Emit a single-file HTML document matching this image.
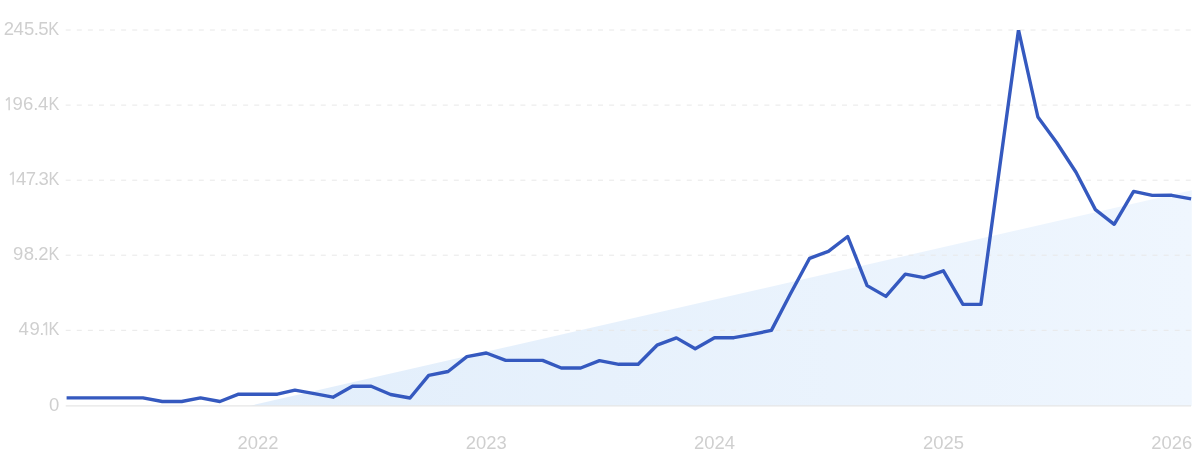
<!DOCTYPE html>
<html><head><meta charset="utf-8"><style>
html,body{margin:0;padding:0;background:#fff;}
body{width:1200px;height:472px;overflow:hidden;}
svg{display:block;}
text{font-family:"Liberation Sans",sans-serif;font-size:18.5px;fill:#cfcfcf;}
</style></head><body>
<svg style="will-change:transform" width="1200" height="472" viewBox="0 0 1200 472">
<defs>
<linearGradient id="g" gradientUnits="userSpaceOnUse" x1="250" y1="0" x2="1192" y2="0">
<stop offset="0" stop-color="#e2eefb"/>
<stop offset="1" stop-color="#eff6fe"/>
</linearGradient>
<clipPath id="c"><rect x="0" y="30" width="1200" height="420"/></clipPath>
</defs>
<rect width="1200" height="472" fill="#fff"/>
<polygon points="249.5,405.9 1191.8,190.3 1191.8,405.9" fill="url(#g)"/>
<line x1="65.7" y1="30.0" x2="1191" y2="30.0" stroke="#e8e8e8" stroke-width="1" stroke-dasharray="5 6.09"/>
<line x1="65.7" y1="105.1" x2="1191" y2="105.1" stroke="#e8e8e8" stroke-width="1" stroke-dasharray="5 6.09"/>
<line x1="65.7" y1="180.2" x2="1191" y2="180.2" stroke="#e8e8e8" stroke-width="1" stroke-dasharray="5 6.09"/>
<line x1="65.7" y1="255.2" x2="1191" y2="255.2" stroke="#e8e8e8" stroke-width="1" stroke-dasharray="5 6.09"/>
<line x1="65.7" y1="330.3" x2="1191" y2="330.3" stroke="#e8e8e8" stroke-width="1" stroke-dasharray="5 6.09"/>
<line x1="65.7" y1="405.9" x2="1191" y2="405.9" stroke="#e6e6e6" stroke-width="1.2"/>
<path d="M66.6,397.9 L86.0,397.9 L104.8,397.9 L124.2,397.9 L142.9,397.9 L162.3,401.5 L181.7,401.5 L200.5,397.9 L219.9,401.5 L238.6,394.2 L258.0,394.2 L277.4,394.2 L294.9,390.2 L314.3,393.6 L333.0,397.2 L352.4,386.3 L371.2,386.3 L390.6,394.5 L410.0,398.0 L428.7,375.3 L448.1,371.5 L466.9,356.6 L486.3,353.0 L505.7,360.4 L523.2,360.4 L542.6,360.4 L561.3,368.0 L580.7,368.0 L599.5,360.6 L618.9,364.3 L638.2,364.3 L657.0,345.2 L676.4,337.9 L695.2,348.7 L714.5,337.7 L733.9,337.7 L752.1,334.3 L771.4,330.4 L790.2,294.3 L809.6,258.3 L828.4,251.3 L847.7,236.5 L867.1,285.6 L885.9,296.4 L905.3,274.2 L924.0,277.7 L943.4,270.8 L962.8,304.2 L980.9,304.4 L999.7,167.0 L1018.5,30.0 L1037.9,117.0 L1056.6,142.5 L1076.0,172.2 L1095.4,209.6 L1114.2,224.3 L1133.6,191.4 L1152.3,195.4 L1171.7,195.3 L1191.1,198.9" fill="none" stroke="#3559bf" stroke-width="3.4" stroke-linejoin="round" stroke-linecap="butt" clip-path="url(#c)"/>
<text x="9.00" y="35.0" text-anchor="middle">2</text>
<text x="18.75" y="35.0" text-anchor="middle">4</text>
<text x="29.10" y="35.0" text-anchor="middle">5</text>
<text x="36.25" y="35.0" text-anchor="middle">.</text>
<text x="43.40" y="35.0" text-anchor="middle">5</text>
<text transform="translate(53.65,35.0) scale(0.88,1)" text-anchor="middle">K</text>
<path d="M9.15,110.20 V97.70 L5.95,100.30" fill="none" stroke="#d2d2d2" stroke-width="1.5" stroke-linejoin="round" stroke-linecap="butt"/>
<text x="17.60" y="110.4" text-anchor="middle">9</text>
<text x="28.25" y="110.4" text-anchor="middle">6</text>
<text x="35.90" y="110.4" text-anchor="middle">.</text>
<text x="43.10" y="110.4" text-anchor="middle">4</text>
<text transform="translate(53.90,110.4) scale(0.88,1)" text-anchor="middle">K</text>
<path d="M13.15,184.80 V172.30 L9.95,174.90" fill="none" stroke="#d2d2d2" stroke-width="1.5" stroke-linejoin="round" stroke-linecap="butt"/>
<text x="21.25" y="185.0" text-anchor="middle">4</text>
<text x="31.00" y="185.0" text-anchor="middle">7</text>
<text x="36.50" y="185.0" text-anchor="middle">.</text>
<text x="43.75" y="185.0" text-anchor="middle">3</text>
<text transform="translate(53.90,185.0) scale(0.88,1)" text-anchor="middle">K</text>
<text x="18.10" y="260.0" text-anchor="middle">9</text>
<text x="28.90" y="260.0" text-anchor="middle">8</text>
<text x="36.10" y="260.0" text-anchor="middle">.</text>
<text x="43.50" y="260.0" text-anchor="middle">2</text>
<text transform="translate(53.90,260.0) scale(0.88,1)" text-anchor="middle">K</text>
<text x="23.75" y="335.4" text-anchor="middle">4</text>
<text x="34.75" y="335.4" text-anchor="middle">9</text>
<text x="41.75" y="335.4" text-anchor="middle">.</text>
<path d="M46.50,335.20 V322.70 L43.30,325.30" fill="none" stroke="#d2d2d2" stroke-width="1.5" stroke-linejoin="round" stroke-linecap="butt"/>
<text transform="translate(53.90,335.4) scale(0.88,1)" text-anchor="middle">K</text>
<text x="54.10" y="411.0" text-anchor="middle">0</text>
<text x="258.0" y="448.5" font-size="19.2" text-anchor="middle" textLength="41" lengthAdjust="spacingAndGlyphs">2022</text>
<text x="486.3" y="448.5" font-size="19.2" text-anchor="middle" textLength="41" lengthAdjust="spacingAndGlyphs">2023</text>
<text x="714.5" y="448.5" font-size="19.2" text-anchor="middle" textLength="41" lengthAdjust="spacingAndGlyphs">2024</text>
<text x="943.4" y="448.5" font-size="19.2" text-anchor="middle" textLength="41" lengthAdjust="spacingAndGlyphs">2025</text>
<text x="1171.7" y="448.5" font-size="19.2" text-anchor="middle" textLength="41" lengthAdjust="spacingAndGlyphs">2026</text>
</svg>
</body></html>
